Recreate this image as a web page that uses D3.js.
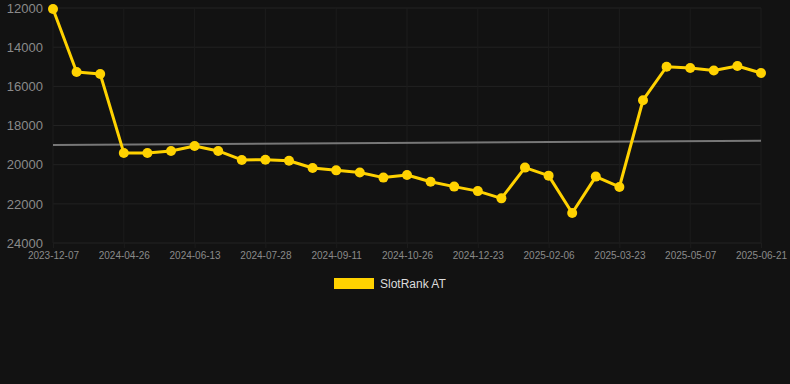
<!DOCTYPE html>
<html>
<head>
<meta charset="utf-8">
<script src="https://cdn.jsdelivr.net/npm/d3@7"></script>
<style>
  html, body { margin: 0; padding: 0; background: #121212; }
  svg { display: block; font-family: Arial, "Liberation Sans", sans-serif; }
</style>
</head>
<body>
<svg id="chart" width="790" height="384"></svg>
<script>
// one value per weekly-ish sample, evenly spaced on the x axis
const rankValues = [
  12050, 15270, 15370, 19400, 19400, 19300, 19050, 19300, 19760,
  19750, 19800, 20170, 20290, 20400, 20660, 20530, 20870, 21120,
  21350, 21720, 20150, 20560, 22470, 20610, 21140, 16710, 15000,
  15060, 15190, 14960, 15320
]
// labelled dates, every third sample
const tickLabels = [
  "2023-12-07", "2024-04-26", "2024-06-13", "2024-07-28", "2024-09-11", "2024-10-26",
  "2024-12-23", "2025-02-06", "2025-03-23", "2025-05-07", "2025-06-21"
]
const labelStep = 3
const trendValues = [19000, 18780]   // first / last point of the gray trend line
const yTicks = [12000, 14000, 16000, 18000, 20000, 22000, 24000]
const seriesName = "SlotRank AT"

const svg = d3.select("#chart")
const margin = { top: 8, right: 29, bottom: 141, left: 53 }
const width = 790 - margin.left - margin.right
const height = 384 - margin.top - margin.bottom

const g = svg.append("g")
  .attr("transform", `translate(${margin.left},${margin.top})`)

const xScale = d3.scalePoint().domain(d3.range(rankValues.length)).range([0, width])
const yScale = d3.scaleLinear().domain([12000, 24000]).range([0, height])

const labelIdx = tickLabels.map((d, i) => i * labelStep)

// grid
g.append("g").selectAll("line").data(yTicks).join("line")
  .attr("x1", 0).attr("x2", width)
  .attr("y1", d => yScale(d)).attr("y2", d => yScale(d))
  .attr("stroke", "#222").attr("stroke-width", 1)

g.append("g").selectAll("line").data(labelIdx).join("line")
  .attr("x1", d => xScale(d)).attr("x2", d => xScale(d))
  .attr("y1", 0).attr("y2", height)
  .attr("stroke", "#1c1c1c").attr("stroke-width", 1)

// y axis labels
const yAxis = g.append("g")
  .call(d3.axisLeft(yScale).tickValues(yTicks).tickSize(0).tickPadding(10).tickFormat(d3.format("d")))
yAxis.select(".domain").remove()
yAxis.selectAll("text").attr("fill", "#8a8a8a").attr("font-size", 13)

// x axis labels
const xAxis = g.append("g")
  .attr("transform", `translate(0,${height})`)
  .call(d3.axisBottom(xScale).tickValues(labelIdx).tickSize(5).tickPadding(4)
    .tickFormat(i => tickLabels[i / labelStep]))
xAxis.select(".domain").remove()
xAxis.selectAll("line").attr("stroke", "#1c1c1c")
xAxis.selectAll("text").attr("fill", "#8a8a8a").attr("font-size", 10)

// trend line
g.append("line")
  .attr("x1", xScale(0)).attr("x2", xScale(rankValues.length - 1))
  .attr("y1", yScale(trendValues[0])).attr("y2", yScale(trendValues[1]))
  .attr("stroke", "#777").attr("stroke-width", 2)

// series line
const line = d3.line()
  .x((d, i) => xScale(i))
  .y(d => yScale(d))

g.append("path")
  .datum(rankValues)
  .attr("fill", "none")
  .attr("stroke", "#ffd200")
  .attr("stroke-width", 3)
  .attr("stroke-linejoin", "round")
  .attr("d", line)

g.append("g").selectAll("circle").data(rankValues).join("circle")
  .attr("cx", (d, i) => xScale(i))
  .attr("cy", d => yScale(d))
  .attr("r", 5)
  .attr("fill", "#ffd200")

// legend
const legend = svg.append("g").attr("transform", "translate(334,278)")
legend.append("rect")
  .attr("width", 40).attr("height", 11)
  .attr("fill", "#ffd200")
legend.append("text")
  .attr("x", 46).attr("y", 10)
  .attr("fill", "#dcdcdc")
  .attr("font-size", 12)
  .text(seriesName)
</script>
</body>
</html>
